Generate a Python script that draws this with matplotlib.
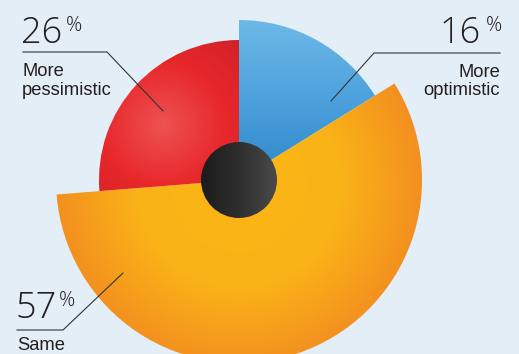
import matplotlib.pyplot as plt
import numpy as np
from matplotlib.patches import Wedge, Circle
from matplotlib.colors import LinearSegmentedColormap

# data
categories = ["More optimistic", "Same", "More pessimistic"]
shares = [16, 57, 26]
pct_labels = ["16", "57", "26"]
sub_labels = [["More", "optimistic"], ["Same"], ["More", "pessimistic"]]

W, H = 519, 354
BG = "#e4eef7"
cx, cy = 239, 180
radii = [160, 183, 140]

fig = plt.figure(figsize=(W / 100, H / 100), dpi=100)
fig.patch.set_facecolor(BG)
ax = fig.add_axes([0, 0, 1, 1])
ax.set_xlim(0, W)
ax.set_ylim(H, 0)  # pixel-like coords, y down (angles run clockwise)
ax.set_facecolor(BG)
ax.axis("off")

xx, yy = np.meshgrid(np.arange(W) + 0.5, np.arange(H) + 0.5)

# gradient fields per slice
def radial(x0, y0, r):
    return np.clip(np.hypot(xx - x0, yy - y0) / r, 0, 1)

fields = [
    (np.clip((yy - 20) / 170, 0, 1),
     LinearSegmentedColormap.from_list("b", ["#6cb9e8", "#4a9fdb", "#2c85c8"])),
    (radial(239, 185, 185),
     LinearSegmentedColormap.from_list("o", [(0, "#fbb616"), (0.55, "#fab317"), (1, "#f38f20")])),
    (radial(163, 125, 135),
     LinearSegmentedColormap.from_list("r", [(0, "#ee5252"), (0.45, "#e8282b"), (1, "#c71e27")])),
]

total = sum(shares)
theta = -90.0
for share, r, (field, cmap) in zip(shares, radii, fields):
    span = share / total * 360
    w = Wedge((cx, cy), r, theta, theta + span, facecolor="none", edgecolor="none")
    ax.add_patch(w)
    im = ax.imshow(field, cmap=cmap, extent=(0, W, H, 0), origin="upper",
                   interpolation="bilinear", vmin=0, vmax=1, zorder=1)
    im.set_clip_path(w)
    theta += span

# dark hub
hub = Circle((cx, cy), 38, facecolor="none", edgecolor="none")
ax.add_patch(hub)
hub_cmap = LinearSegmentedColormap.from_list("k", ["#1c1c1c", "#2e2e2e", "#4a4a4a"])
im = ax.imshow(np.clip((xx - 201) / 76, 0, 1), cmap=hub_cmap, extent=(0, W, H, 0),
               origin="upper", interpolation="bilinear", vmin=0, vmax=1, zorder=2)
im.set_clip_path(hub)

ax.set_xlim(0, W)
ax.set_ylim(H, 0)

# leader lines
lc = "#333333"
ax.plot([500, 374, 331], [53, 53, 101], color=lc, lw=0.8, zorder=3)
ax.plot([23, 107, 163], [52, 52, 111], color=lc, lw=0.8, zorder=3)
ax.plot([17, 63, 123], [330, 330, 273], color=lc, lw=0.8, zorder=3)

num_kw = dict(family="Open Sans", fontweight="light", fontsize=26, color="#231f20", zorder=4)
pc_kw = dict(family="Open Sans", fontweight="light", fontsize=14.5, color="#231f20", zorder=4)
lab_kw = dict(family="Liberation Sans", fontsize=13.2, color="#231f20", zorder=4)

# More optimistic (right)
ax.text(481, 43, pct_labels[0], ha="right", va="baseline", **num_kw)
ax.text(486, 16, "%", ha="left", va="top", **pc_kw)
ax.text(500, 77, sub_labels[0][0], ha="right", va="baseline", **lab_kw)
ax.text(500, 95, sub_labels[0][1], ha="right", va="baseline", **lab_kw)

# More pessimistic (left top)
ax.text(21, 43, pct_labels[2], ha="left", va="baseline", **num_kw)
ax.text(66, 16, "%", ha="left", va="top", **pc_kw)
ax.text(22, 76, sub_labels[2][0], ha="left", va="baseline", **lab_kw)
ax.text(22, 95, sub_labels[2][1], ha="left", va="baseline", **lab_kw)

# Same (left bottom)
ax.text(16, 318, pct_labels[1], ha="left", va="baseline", **num_kw)
ax.text(59, 291, "%", ha="left", va="top", **pc_kw)
ax.text(17, 350, sub_labels[1][0], ha="left", va="baseline", **lab_kw)

fig.savefig("out.png", dpi=100, facecolor=BG)
